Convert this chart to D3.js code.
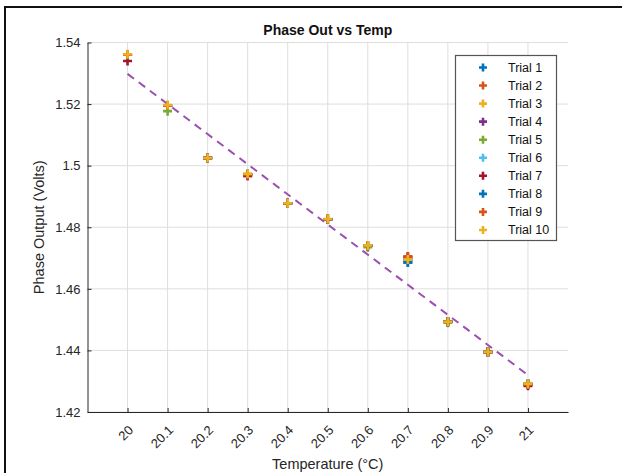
<!DOCTYPE html>
<html><head><meta charset="utf-8">
<script src="https://cdn.jsdelivr.net/npm/d3@7"></script>
<style>
html,body{margin:0;padding:0;background:#fff;}
svg{display:block;font-family:"Liberation Sans",Arial,Helvetica,sans-serif;}
</style></head>
<body>
<svg id="chart" width="622" height="473"></svg>
<script>
const temps = [20, 20.1, 20.2, 20.3, 20.4, 20.5, 20.6, 20.7, 20.8, 20.9, 21];
const trialNames = ["Trial 1","Trial 2","Trial 3","Trial 4","Trial 5","Trial 6","Trial 7","Trial 8","Trial 9","Trial 10"];
const trialColors = ["#0072BD","#D95319","#EDB120","#7E2F8E","#77AC30","#4DBEEE","#A2142F","#0072BD","#D95319","#EDB120"];
const trial1  = [1.5360,1.5195,1.5025,1.4972,1.4878,1.4826,1.4740,1.4686,1.4493,1.4395,1.4291];
const trial2  = [1.5360,1.5195,1.5025,1.4967,1.4878,1.4826,1.4740,1.4704,1.4493,1.4395,1.4289];
const trial3  = [1.5360,1.5195,1.5025,1.4972,1.4878,1.4826,1.4740,1.4695,1.4493,1.4395,1.4291];
const trial4  = [1.5360,1.5195,1.5025,1.4972,1.4878,1.4826,1.4740,1.4695,1.4493,1.4395,1.4291];
const trial5  = [1.5360,1.5177,1.5025,1.4970,1.4878,1.4826,1.4735,1.4695,1.4490,1.4395,1.4291];
const trial6  = [1.5360,1.5195,1.5025,1.4972,1.4878,1.4826,1.4740,1.4695,1.4493,1.4395,1.4291];
const trial7  = [1.5340,1.5195,1.5025,1.4967,1.4878,1.4826,1.4740,1.4704,1.4493,1.4395,1.4285];
const trial8  = [1.5360,1.5195,1.5025,1.4972,1.4878,1.4826,1.4740,1.4686,1.4493,1.4395,1.4291];
const trial9  = [1.5360,1.5195,1.5025,1.4970,1.4878,1.4826,1.4740,1.4704,1.4493,1.4395,1.4289];
const trial10 = [1.5362,1.5197,1.5025,1.4974,1.4878,1.4827,1.4741,1.4695,1.4493,1.4395,1.4292];
const trials = [trial1,trial2,trial3,trial4,trial5,trial6,trial7,trial8,trial9,trial10];
const fitX = [20, 21];
const fitY = [1.5298, 1.4320];
const yTicks = [1.42, 1.44, 1.46, 1.48, 1.5, 1.52, 1.54];
const yTickLabels = ["1.42","1.44","1.46","1.48","1.5","1.52","1.54"];
const xTickLabels = ["20","20.1","20.2","20.3","20.4","20.5","20.6","20.7","20.8","20.9","21"];

const svg = d3.select("#chart");
const L = 87.5, R = 568, T = 42.5, B = 412;
const x = d3.scaleLinear().domain([19.9, 21.1]).range([L, R]);
const y = d3.scaleLinear().domain([1.42, 1.54]).range([B, T]);

// outer frame
svg.append("path").attr("d", "M5,473V7H622").attr("fill","none").attr("stroke","#111").attr("stroke-width",2);

// grid
const g = svg.append("g");
g.selectAll("line.vg").data(temps).join("line")
  .attr("x1", d=>x(d)).attr("x2", d=>x(d)).attr("y1", T).attr("y2", B)
  .attr("stroke","#dedede").attr("stroke-width",1);
g.selectAll("line.hg").data(yTicks).join("line")
  .attr("x1", L).attr("x2", R).attr("y1", d=>y(d)).attr("y2", d=>y(d))
  .attr("stroke","#dedede").attr("stroke-width",1);

// axes
const xAxis = d3.axisBottom(x).tickValues(temps).tickSizeInner(-4).tickSizeOuter(0).tickFormat((d,i)=>xTickLabels[i]);
const gx = svg.append("g").attr("transform", `translate(0,${B})`).call(xAxis);
gx.select(".domain").attr("stroke","#262626");
gx.selectAll(".tick line").attr("stroke","#262626");
gx.selectAll(".tick text").attr("font-size", 13).attr("fill","#262626")
  .attr("text-anchor","end").attr("dy", null).attr("y", null)
  .attr("transform","translate(6,19) rotate(-45)");

const yAxis = d3.axisLeft(y).tickValues(yTicks).tickSizeInner(-4).tickSizeOuter(0).tickPadding(7).tickFormat((d,i)=>yTickLabels[i]);
const gy = svg.append("g").attr("transform", `translate(${L},0)`).call(yAxis);
gy.select(".domain").attr("stroke","#262626");
gy.selectAll(".tick line").attr("stroke","#262626");
gy.selectAll(".tick text").attr("font-size", 13).attr("fill","#262626");
svg.selectAll(".domain").attr("stroke-width",1);

// fit line
const line = d3.line().x(d=>x(d[0])).y(d=>y(d[1]));
svg.append("path").datum(fitX.map((v,i)=>[v, fitY[i]]))
  .attr("d", line).attr("fill","none").attr("stroke","#9B4FB0")
  .attr("stroke-width",2).attr("stroke-dasharray","8,6");

// markers
const plus = "M-4.5,0H4.5M0,-4.5V4.5";
trials.forEach((arr, ti) => {
  svg.append("g").selectAll("path").data(arr).join("path")
    .attr("d", plus)
    .attr("transform", (d,i)=>`translate(${x(temps[i])},${y(d)})`)
    .attr("stroke", trialColors[ti]).attr("stroke-width", 2.6).attr("fill","none");
});

// legend
const lg = svg.append("g");
lg.append("rect").attr("x",455.5).attr("y",55.5).attr("width",101).attr("height",185)
  .attr("fill","#fff").attr("stroke","#555").attr("stroke-width",1.2);
trialNames.forEach((n, i) => {
  const yy = 67.5 + i*18.05;
  lg.append("path").attr("d","M-4,0H4M0,-4V4").attr("transform",`translate(483,${yy})`)
    .attr("stroke", trialColors[i]).attr("stroke-width",2.6);
  lg.append("text").attr("x",508).attr("y",yy+4.5).attr("font-size",12.5).attr("fill","#111").text(n);
});

// title and labels
svg.append("text").attr("x",(L+R)/2).attr("y",35).attr("text-anchor","middle")
  .attr("font-size",14).attr("font-weight","bold").attr("fill","#111").text("Phase Out vs Temp");
svg.append("text").attr("x",(L+R)/2).attr("y",469).attr("text-anchor","middle")
  .attr("font-size",14.5).attr("fill","#262626").text("Temperature (°C)");
svg.append("text").attr("transform",`translate(44,${(T+B)/2}) rotate(-90)`).attr("text-anchor","middle")
  .attr("font-size",14.5).attr("fill","#262626").text("Phase Output (Volts)");
</script>
</body></html>
